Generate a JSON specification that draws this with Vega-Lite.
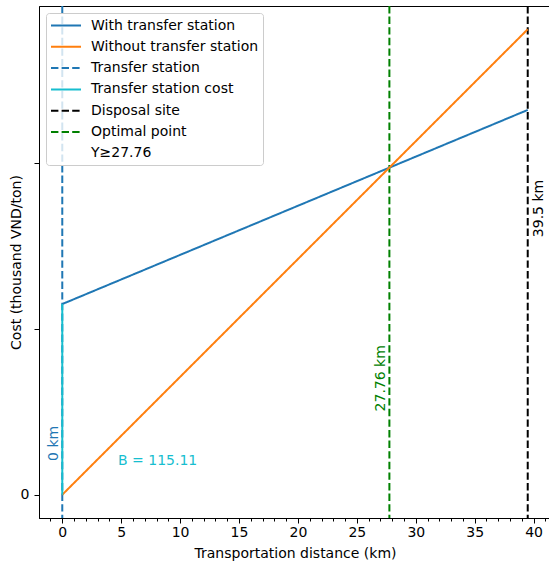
{
  "$schema": "https://vega.github.io/schema/vega-lite/v6.json",
  "autosize": {"type": "none"},
  "padding": {"left": 39, "top": 6, "right": 0, "bottom": 46},
  "width": 512,
  "height": 512,
  "config": {
    "font": "DejaVu Sans",
    "view": {"stroke": "black", "strokeWidth": 1},
    "axis": {"domainColor": "black", "tickColor": "black", "labelColor": "black", "titleColor": "black", "labelFontSize": 14, "titleFontSize": 14, "titleFontWeight": "normal", "grid": false, "labelFont": "DejaVu Sans", "titleFont": "DejaVu Sans", "labelOverlap": false},
    "legend": {"labelFont": "DejaVu Sans"}
  },
  "encoding": {
    "x": {"field": "x", "type": "quantitative", "scale": {"domain": [-1.975, 41.475], "nice": false, "zero": false},
      "axis": {"title": "Transportation distance (km)", "values": [-1,0,1,2,3,4,5,6,7,8,9,10,11,12,13,14,15,16,17,18,19,20,21,22,23,24,25,26,27,28,29,30,31,32,33,34,35,36,37,38,39,40,41],
        "labelExpr": "datum.value % 5 === 0 ? datum.label : ''",
        "tickSize": {"condition": {"test": "datum.value % 5 === 0", "value": 5}, "value": 3},
        "labelPadding": 2, "titlePadding": 7, "labelFlush": false, "labelOverlap": false}},
    "y": {"field": "y", "type": "quantitative", "scale": {"domain": [-14.05, 295.05], "nice": false, "zero": false},
      "axis": {"title": "Cost (thousand VND/ton)", "values": [0, 100, 200], "labelExpr": "datum.value === 0 ? '0' : ''", "tickSize": 5, "labelPadding": 5, "titlePadding": -3, "labelOverlap": false}}
  },
  "layer": [
    {
      "data": {"values": [
        {"series": "Transfer station", "x": 0},
        {"series": "Disposal site", "x": 39.5},
        {"series": "Optimal point", "x": 27.76}
      ]},
      "mark": {"type": "rule", "strokeWidth": 2},
      "encoding": {
        "x": {"field": "x", "type": "quantitative"},
        "y": null,
        "color": {"field": "series", "type": "nominal",
          "scale": {"domain": ["With transfer station", "Without transfer station", "Transfer station", "Transfer station cost", "Disposal site", "Optimal point", "Y≥27.76"],
            "range": ["#1f77b4", "#ff7f0e", "#1f77b4", "#17becf", "black", "green", "transparent"]},
          "legend": {"title": null, "orient": "top-left", "offset": 7, "fillColor": "rgba(255,255,255,0.8)", "strokeColor": "#cccccc", "cornerRadius": 3, "padding": 4, "symbolType": "M-1,0H3", "symbolSize": 225, "symbolStrokeWidth": 2, "symbolFillColor": "transparent", "labelFontSize": 14, "labelColor": "black", "labelLimit": 0, "rowPadding": 5.3, "labelOffset": 24}},
        "strokeDash": {"field": "series", "type": "nominal",
          "scale": {"domain": ["With transfer station", "Without transfer station", "Transfer station", "Transfer station cost", "Disposal site", "Optimal point", "Y≥27.76"],
            "range": [[1,0], [1,0], [7.4,3.2], [1,0], [7.4,3.2], [7.4,3.2], [1,0]]},
          "legend": {"title": null}}
      }
    },
    {
      "data": {"values": [
        {"series": "With transfer station", "x": 0, "y": 115.11, "o": 1},
        {"series": "With transfer station", "x": 39.5, "y": 232.3, "o": 2},
        {"series": "Without transfer station", "x": 0, "y": 0, "o": 1},
        {"series": "Without transfer station", "x": 39.5, "y": 281, "o": 2},
        {"series": "Transfer station cost", "x": 0, "y": 0, "o": 1},
        {"series": "Transfer station cost", "x": 0, "y": 115.11, "o": 2}
      ]},
      "mark": {"type": "line", "strokeWidth": 2},
      "encoding": {
        "order": {"field": "o", "type": "quantitative"},
        "color": {"field": "series", "type": "nominal"},
        "strokeDash": {"field": "series", "type": "nominal"}
      }
    },
    {
      "data": {"values": [{"label": "B = 115.11", "x": 4.73, "y": 20.1}]},
      "mark": {"type": "text", "color": "#17becf", "fontSize": 14, "align": "left", "baseline": "middle"},
      "encoding": {"text": {"field": "label"}}
    },
    {
      "data": {"values": [{"label": "0 km", "x": 0, "y": 31}]},
      "mark": {"type": "text", "color": "#1f77b4", "fontSize": 14, "angle": 270, "align": "center", "baseline": "bottom", "dy": -1},
      "encoding": {"text": {"field": "label"}}
    },
    {
      "data": {"values": [{"label": "27.76 km", "x": 27.76, "y": 70.3}]},
      "mark": {"type": "text", "color": "green", "fontSize": 14, "angle": 270, "align": "center", "baseline": "bottom", "dy": -1},
      "encoding": {"text": {"field": "label"}}
    },
    {
      "data": {"values": [{"label": "39.5 km", "x": 39.5, "y": 172.8}]},
      "mark": {"type": "text", "color": "black", "fontSize": 14, "angle": 270, "align": "center", "baseline": "top", "dy": 4},
      "encoding": {"text": {"field": "label"}}
    }
  ]
}
